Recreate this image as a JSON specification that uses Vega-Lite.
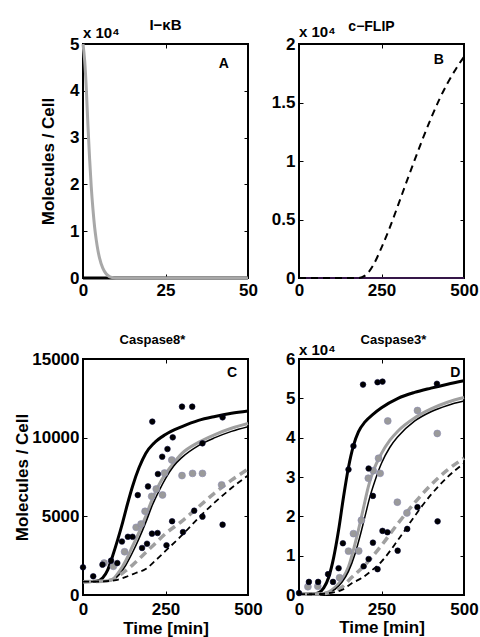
{
"$schema":"https://vega.github.io/schema/vega-lite/v6.json",
"padding":{"left":12,"top":16,"right":5,"bottom":3},
"background":"white",
"columns":2,
"spacing":{"row":81,"column":51},
"bounds":"flush",
"datasets":{
"A":[{"s":"k","t":0,"v":0},{"s":"k","t":50,"v":0},
{"s":"g","t":0,"v":50000},{"s":"g","t":0.5,"v":46500},{"s":"g","t":1,"v":40500},{"s":"g","t":1.5,"v":32500},{"s":"g","t":2,"v":25500},{"s":"g","t":2.5,"v":19500},{"s":"g","t":3,"v":14800},{"s":"g","t":3.5,"v":11000},{"s":"g","t":4,"v":8200},{"s":"g","t":4.5,"v":6000},{"s":"g","t":5,"v":4300},{"s":"g","t":6,"v":2100},{"s":"g","t":7,"v":900},{"s":"g","t":8,"v":300},{"s":"g","t":9,"v":80},{"s":"g","t":10,"v":0},{"s":"g","t":20,"v":0},{"s":"g","t":50,"v":0}],
"B":[{"s":"z","t":0,"v":0},{"s":"z","t":500,"v":0},
{"s":"f","t":0,"v":0},{"s":"f","t":100,"v":0},{"s":"f","t":180,"v":0},{"s":"f","t":200,"v":200},{"s":"f","t":225,"v":1100},{"s":"f","t":250,"v":2600},{"s":"f","t":275,"v":4300},{"s":"f","t":300,"v":6200},{"s":"f","t":325,"v":8150},{"s":"f","t":350,"v":10050},{"s":"f","t":375,"v":11900},{"s":"f","t":400,"v":13650},{"s":"f","t":425,"v":15250},{"s":"f","t":450,"v":16650},{"s":"f","t":475,"v":17850},{"s":"f","t":500,"v":18900}],
"C":[
{"s":"k1","t":0,"v":850},{"s":"k1","t":40,"v":870},{"s":"k1","t":60,"v":1100},{"s":"k1","t":75,"v":1600},{"s":"k1","t":90,"v":2500},{"s":"k1","t":105,"v":3500},{"s":"k1","t":120,"v":4600},{"s":"k1","t":135,"v":5800},{"s":"k1","t":150,"v":6900},{"s":"k1","t":170,"v":8100},{"s":"k1","t":190,"v":9000},{"s":"k1","t":215,"v":9650},{"s":"k1","t":250,"v":10200},{"s":"k1","t":300,"v":10700},{"s":"k1","t":350,"v":11100},{"s":"k1","t":400,"v":11350},{"s":"k1","t":450,"v":11550},{"s":"k1","t":500,"v":11700},
{"s":"g1","t":0,"v":850},{"s":"g1","t":60,"v":870},{"s":"g1","t":90,"v":1000},{"s":"g1","t":110,"v":1500},{"s":"g1","t":130,"v":2200},{"s":"g1","t":150,"v":3100},{"s":"g1","t":170,"v":4000},{"s":"g1","t":190,"v":5000},{"s":"g1","t":210,"v":6100},{"s":"g1","t":230,"v":7000},{"s":"g1","t":250,"v":7700},{"s":"g1","t":275,"v":8400},{"s":"g1","t":300,"v":9000},{"s":"g1","t":350,"v":9700},{"s":"g1","t":400,"v":10200},{"s":"g1","t":450,"v":10600},{"s":"g1","t":500,"v":10900},
{"s":"k2","t":0,"v":850},{"s":"k2","t":60,"v":860},{"s":"k2","t":90,"v":950},{"s":"k2","t":110,"v":1300},{"s":"k2","t":130,"v":1900},{"s":"k2","t":150,"v":2700},{"s":"k2","t":170,"v":3600},{"s":"k2","t":190,"v":4600},{"s":"k2","t":210,"v":5700},{"s":"k2","t":230,"v":6600},{"s":"k2","t":250,"v":7400},{"s":"k2","t":275,"v":8200},{"s":"k2","t":300,"v":8750},{"s":"k2","t":350,"v":9500},{"s":"k2","t":400,"v":10000},{"s":"k2","t":450,"v":10400},{"s":"k2","t":500,"v":10700},
{"s":"g2","t":0,"v":850},{"s":"g2","t":60,"v":870},{"s":"g2","t":90,"v":1000},{"s":"g2","t":120,"v":1400},{"s":"g2","t":150,"v":1900},{"s":"g2","t":180,"v":2500},{"s":"g2","t":210,"v":3100},{"s":"g2","t":250,"v":3900},{"s":"g2","t":300,"v":4700},{"s":"g2","t":350,"v":5600},{"s":"g2","t":400,"v":6500},{"s":"g2","t":450,"v":7300},{"s":"g2","t":500,"v":8000},
{"s":"k3","t":0,"v":850},{"s":"k3","t":60,"v":860},{"s":"k3","t":100,"v":950},{"s":"k3","t":130,"v":1150},{"s":"k3","t":160,"v":1400},{"s":"k3","t":190,"v":1650},{"s":"k3","t":220,"v":2200},{"s":"k3","t":250,"v":2800},{"s":"k3","t":300,"v":3800},{"s":"k3","t":350,"v":4900},{"s":"k3","t":400,"v":5900},{"s":"k3","t":450,"v":6800},{"s":"k3","t":500,"v":7600}],
"D":[
{"s":"k1","t":0,"v":200},{"s":"k1","t":40,"v":250},{"s":"k1","t":60,"v":600},{"s":"k1","t":75,"v":1800},{"s":"k1","t":90,"v":4500},{"s":"k1","t":105,"v":9500},{"s":"k1","t":120,"v":16500},{"s":"k1","t":135,"v":25000},{"s":"k1","t":150,"v":32500},{"s":"k1","t":165,"v":38000},{"s":"k1","t":180,"v":41500},{"s":"k1","t":200,"v":44000},{"s":"k1","t":225,"v":46000},{"s":"k1","t":250,"v":47600},{"s":"k1","t":300,"v":50000},{"s":"k1","t":350,"v":51500},{"s":"k1","t":400,"v":52600},{"s":"k1","t":450,"v":53600},{"s":"k1","t":500,"v":54500},
{"s":"g1","t":0,"v":200},{"s":"g1","t":60,"v":250},{"s":"g1","t":90,"v":800},{"s":"g1","t":110,"v":2000},{"s":"g1","t":130,"v":4000},{"s":"g1","t":150,"v":7200},{"s":"g1","t":165,"v":11500},{"s":"g1","t":180,"v":16500},{"s":"g1","t":195,"v":22000},{"s":"g1","t":210,"v":27500},{"s":"g1","t":225,"v":31500},{"s":"g1","t":250,"v":36000},{"s":"g1","t":275,"v":39300},{"s":"g1","t":300,"v":41700},{"s":"g1","t":350,"v":45000},{"s":"g1","t":400,"v":47300},{"s":"g1","t":450,"v":49000},{"s":"g1","t":500,"v":50200},
{"s":"k2","t":0,"v":200},{"s":"k2","t":60,"v":220},{"s":"k2","t":90,"v":600},{"s":"k2","t":110,"v":1500},{"s":"k2","t":130,"v":3200},{"s":"k2","t":150,"v":6000},{"s":"k2","t":170,"v":10500},{"s":"k2","t":185,"v":15000},{"s":"k2","t":200,"v":20000},{"s":"k2","t":215,"v":25000},{"s":"k2","t":230,"v":29000},{"s":"k2","t":250,"v":33500},{"s":"k2","t":275,"v":37500},{"s":"k2","t":300,"v":40300},{"s":"k2","t":350,"v":44200},{"s":"k2","t":400,"v":46600},{"s":"k2","t":450,"v":48200},{"s":"k2","t":500,"v":49300},
{"s":"g2","t":0,"v":200},{"s":"g2","t":60,"v":250},{"s":"g2","t":100,"v":800},{"s":"g2","t":130,"v":2000},{"s":"g2","t":160,"v":4500},{"s":"g2","t":190,"v":6800},{"s":"g2","t":220,"v":9500},{"s":"g2","t":250,"v":12600},{"s":"g2","t":300,"v":18200},{"s":"g2","t":350,"v":23400},{"s":"g2","t":400,"v":28000},{"s":"g2","t":450,"v":31800},{"s":"g2","t":500,"v":34800},
{"s":"k3","t":0,"v":200},{"s":"k3","t":60,"v":220},{"s":"k3","t":100,"v":600},{"s":"k3","t":130,"v":1300},{"s":"k3","t":160,"v":3000},{"s":"k3","t":190,"v":4300},{"s":"k3","t":220,"v":6200},{"s":"k3","t":250,"v":8500},{"s":"k3","t":300,"v":14000},{"s":"k3","t":350,"v":20000},{"s":"k3","t":400,"v":25500},{"s":"k3","t":450,"v":30000},{"s":"k3","t":500,"v":33500}],
"Cp":[
{"c":"g","t":64,"v":2030},{"c":"g","t":92,"v":1820},{"c":"g","t":126,"v":2750},{"c":"g","t":161,"v":4300},{"c":"g","t":176,"v":4510},{"c":"g","t":188,"v":5320},{"c":"g","t":208,"v":6270},{"c":"g","t":222,"v":6740},{"c":"g","t":241,"v":6360},{"c":"g","t":247,"v":7750},{"c":"g","t":269,"v":8580},{"c":"g","t":300,"v":7590},{"c":"g","t":332,"v":7730},{"c":"g","t":362,"v":7730},{"c":"g","t":420,"v":7000},
{"c":"k","t":0,"v":1760},{"c":"k","t":31,"v":1190},{"c":"k","t":59,"v":1930},{"c":"k","t":85,"v":2180},{"c":"k","t":104,"v":2030},{"c":"k","t":118,"v":3400},{"c":"k","t":136,"v":3700},{"c":"k","t":150,"v":3700},{"c":"k","t":166,"v":6350},{"c":"k","t":179,"v":2990},{"c":"k","t":194,"v":3260},{"c":"k","t":197,"v":6900},{"c":"k","t":210,"v":11020},{"c":"k","t":209,"v":3900},{"c":"k","t":226,"v":3940},{"c":"k","t":227,"v":7690},{"c":"k","t":240,"v":8790},{"c":"k","t":253,"v":3160},{"c":"k","t":256,"v":9280},{"c":"k","t":272,"v":10020},{"c":"k","t":270,"v":4690},{"c":"k","t":300,"v":11970},{"c":"k","t":303,"v":4000},{"c":"k","t":331,"v":11970},{"c":"k","t":337,"v":5360},{"c":"k","t":362,"v":4980},{"c":"k","t":362,"v":9640},{"c":"k","t":423,"v":4470},{"c":"k","t":423,"v":11290}],
"Dp":[
{"c":"g","t":27,"v":2100},{"c":"g","t":57,"v":2200},{"c":"g","t":123,"v":4400},{"c":"g","t":150,"v":11150},{"c":"g","t":165,"v":15600},{"c":"g","t":181,"v":11200},{"c":"g","t":189,"v":19000},{"c":"g","t":210,"v":29700},{"c":"g","t":225,"v":31600},{"c":"g","t":241,"v":34770},{"c":"g","t":246,"v":30930},{"c":"g","t":269,"v":44250},{"c":"g","t":298,"v":23600},{"c":"g","t":327,"v":20850},{"c":"g","t":359,"v":46900},{"c":"g","t":419,"v":41070},
{"c":"k","t":0,"v":500},{"c":"k","t":30,"v":3330},{"c":"k","t":58,"v":3330},{"c":"k","t":88,"v":5300},{"c":"k","t":103,"v":3330},{"c":"k","t":120,"v":6810},{"c":"k","t":133,"v":13150},{"c":"k","t":150,"v":31900},{"c":"k","t":165,"v":37870},{"c":"k","t":194,"v":53500},{"c":"k","t":196,"v":7300},{"c":"k","t":211,"v":9150},{"c":"k","t":211,"v":32170},{"c":"k","t":224,"v":25190},{"c":"k","t":224,"v":13300},{"c":"k","t":238,"v":54100},{"c":"k","t":253,"v":54250},{"c":"k","t":238,"v":6560},{"c":"k","t":253,"v":16300},{"c":"k","t":268,"v":15950},{"c":"k","t":299,"v":11270},{"c":"k","t":328,"v":16800},{"c":"k","t":359,"v":22330},{"c":"k","t":418,"v":53700},{"c":"k","t":420,"v":18720}],
"ann":[
{"p":"A","k":"x","t":0,"v":51300,"lab":"x 10⁴"},{"p":"A","k":"l","t":42.7,"v":45700,"lab":"A"},
{"p":"B","k":"x","t":0,"v":20600,"lab":"x 10⁴"},{"p":"B","k":"l","t":424,"v":18600,"lab":"B"},
{"p":"C","k":"l","t":452,"v":14100,"lab":"C"},
{"p":"D","k":"x","t":0,"v":61000,"lab":"x 10⁴"},{"p":"D","k":"l","t":474,"v":56400,"lab":"D"}]
},
"concat":[
{"width":165,"height":234,"title":{"text":"I−κB","fontSize":15,"offset":-7},
 "layer":[
  {"data":{"name":"A"},"transform":[{"filter":"datum.s==='k'"}],"mark":{"type":"line","color":"#000","strokeWidth":3},
   "encoding":{"x":{"field":"t","type":"quantitative","scale":{"domain":[0,50],"nice":false},"axis":{"orient":"bottom","values":[0,25,50],"title":null}},
    "y":{"field":"v","type":"quantitative","scale":{"domain":[0,50000],"nice":false},"axis":{"orient":"left","values":[0,10000,20000,30000,40000,50000],"labelExpr":"datum.value/10000","title":"Molecules / Cell","titlePadding":12}}}},
  {"data":{"name":"A"},"transform":[{"filter":"datum.s==='g'"}],"mark":{"type":"line","color":"#a8a8a8","strokeWidth":3,"interpolate":"monotone"},
   "encoding":{"x":{"field":"t","type":"quantitative","scale":{"domain":[0,50],"nice":false},"axis":null},"y":{"field":"v","type":"quantitative","scale":{"domain":[0,50000],"nice":false},"axis":null}}},
  {"data":{"name":"ann"},"transform":[{"filter":"datum.p==='A' && datum.k==='x'"}],"mark":{"type":"text","align":"left","baseline":"alphabetic","fontSize":15,"fontWeight":"bold"},
   "encoding":{"x":{"field":"t","type":"quantitative","scale":{"domain":[0,50],"nice":false},"axis":null},"y":{"field":"v","type":"quantitative","scale":{"domain":[0,50000],"nice":false},"axis":null},"text":{"field":"lab"}}},
  {"data":{"name":"ann"},"transform":[{"filter":"datum.p==='A' && datum.k==='l'"}],"mark":{"type":"text","align":"center","baseline":"middle","fontSize":14,"fontWeight":"bold"},
   "encoding":{"x":{"field":"t","type":"quantitative","scale":{"domain":[0,50],"nice":false},"axis":null},"y":{"field":"v","type":"quantitative","scale":{"domain":[0,50000],"nice":false},"axis":null},"text":{"field":"lab"}}},
  {"data":{"name":"A"},"mark":{"type":"point","opacity":0},
   "encoding":{"x":{"field":"t","type":"quantitative","scale":{"domain":[0,50],"nice":false},"axis":{"orient":"top","values":[0,25,50],"labels":false,"title":null}},
    "y":{"field":"v","type":"quantitative","scale":{"domain":[0,50000],"nice":false},"axis":{"orient":"right","values":[0,10000,20000,30000,40000,50000],"labels":false,"title":null}}}}
 ],
 "resolve":{"axis":{"x":"independent","y":"independent"}}},
{"width":165,"height":234,"title":{"text":"c−FLIP","dx":-10,"fontSize":14,"offset":-9},
 "layer":[
  {"data":{"name":"B"},"transform":[{"filter":"datum.s==='z'"}],"mark":{"type":"line","color":"#6a2c91","strokeWidth":1},
   "encoding":{"x":{"field":"t","type":"quantitative","scale":{"domain":[0,500],"nice":false},"axis":{"orient":"bottom","values":[0,250,500],"title":null}},
    "y":{"field":"v","type":"quantitative","scale":{"domain":[0,20000],"nice":false},"axis":{"orient":"left","values":[0,5000,10000,15000,20000],"labelExpr":"datum.value/10000","title":null}}}},
  {"data":{"name":"B"},"transform":[{"filter":"datum.s==='f'"}],"mark":{"type":"line","color":"#000","strokeWidth":2,"strokeDash":[7,5],"interpolate":"monotone"},
   "encoding":{"x":{"field":"t","type":"quantitative","scale":{"domain":[0,500],"nice":false},"axis":null},"y":{"field":"v","type":"quantitative","scale":{"domain":[0,20000],"nice":false},"axis":null}}},
  {"data":{"name":"ann"},"transform":[{"filter":"datum.p==='B' && datum.k==='x'"}],"mark":{"type":"text","align":"left","baseline":"alphabetic","fontSize":15,"fontWeight":"bold"},
   "encoding":{"x":{"field":"t","type":"quantitative","scale":{"domain":[0,500],"nice":false},"axis":null},"y":{"field":"v","type":"quantitative","scale":{"domain":[0,20000],"nice":false},"axis":null},"text":{"field":"lab"}}},
  {"data":{"name":"ann"},"transform":[{"filter":"datum.p==='B' && datum.k==='l'"}],"mark":{"type":"text","align":"center","baseline":"middle","fontSize":14,"fontWeight":"bold"},
   "encoding":{"x":{"field":"t","type":"quantitative","scale":{"domain":[0,500],"nice":false},"axis":null},"y":{"field":"v","type":"quantitative","scale":{"domain":[0,20000],"nice":false},"axis":null},"text":{"field":"lab"}}},
  {"data":{"name":"B"},"mark":{"type":"point","opacity":0},
   "encoding":{"x":{"field":"t","type":"quantitative","scale":{"domain":[0,500],"nice":false},"axis":{"orient":"top","values":[0,250,500],"labels":false,"title":null}},
    "y":{"field":"v","type":"quantitative","scale":{"domain":[0,20000],"nice":false},"axis":{"orient":"right","values":[0,5000,10000,15000,20000],"labels":false,"title":null}}}}
 ],
 "resolve":{"axis":{"x":"independent","y":"independent"}}},
{"width":165,"height":236,"title":{"text":"Caspase8*","dx":-13,"offset":3},
 "layer":[
  {"data":{"name":"C"},"transform":[{"filter":"datum.s==='k1'"}],"mark":{"type":"line","color":"#000","strokeWidth":3,"interpolate":"monotone"},
   "encoding":{"x":{"field":"t","type":"quantitative","scale":{"domain":[0,500],"nice":false},"axis":{"orient":"bottom","values":[0,250,500],"title":"Time [min]","titlePadding":3,"labelPadding":10}},
    "y":{"field":"v","type":"quantitative","scale":{"domain":[0,15000],"nice":false},"axis":{"orient":"left","values":[0,5000,10000,15000],"format":"d","title":"Molecules / Cell","titlePadding":0}}}},
  {"data":{"name":"C"},"transform":[{"filter":"datum.s==='g1'"}],"mark":{"type":"line","color":"#a0a0a0","strokeWidth":3,"interpolate":"monotone"},
   "encoding":{"x":{"field":"t","type":"quantitative","scale":{"domain":[0,500],"nice":false},"axis":null},"y":{"field":"v","type":"quantitative","scale":{"domain":[0,15000],"nice":false},"axis":null}}},
  {"data":{"name":"C"},"transform":[{"filter":"datum.s==='k2'"}],"mark":{"type":"line","color":"#000","strokeWidth":1.5,"interpolate":"monotone"},
   "encoding":{"x":{"field":"t","type":"quantitative","scale":{"domain":[0,500],"nice":false},"axis":null},"y":{"field":"v","type":"quantitative","scale":{"domain":[0,15000],"nice":false},"axis":null}}},
  {"data":{"name":"C"},"transform":[{"filter":"datum.s==='g2'"}],"mark":{"type":"line","color":"#a0a0a0","strokeWidth":3.5,"strokeDash":[8,5],"interpolate":"monotone"},
   "encoding":{"x":{"field":"t","type":"quantitative","scale":{"domain":[0,500],"nice":false},"axis":null},"y":{"field":"v","type":"quantitative","scale":{"domain":[0,15000],"nice":false},"axis":null}}},
  {"data":{"name":"C"},"transform":[{"filter":"datum.s==='k3'"}],"mark":{"type":"line","color":"#000","strokeWidth":1.8,"strokeDash":[6,4],"interpolate":"monotone"},
   "encoding":{"x":{"field":"t","type":"quantitative","scale":{"domain":[0,500],"nice":false},"axis":null},"y":{"field":"v","type":"quantitative","scale":{"domain":[0,15000],"nice":false},"axis":null}}},
  {"data":{"name":"Cp"},"mark":{"type":"circle","opacity":1,"strokeWidth":0.6},
   "encoding":{"x":{"field":"t","type":"quantitative","scale":{"domain":[0,500],"nice":false},"axis":null},"y":{"field":"v","type":"quantitative","scale":{"domain":[0,15000],"nice":false},"axis":null},
    "color":{"field":"c","type":"nominal","scale":{"domain":["k","g"],"range":["#000000","#9a9a9a"]},"legend":null},
    "stroke":{"field":"c","type":"nominal","scale":{"domain":["k","g"],"range":["#000033","#8c8cb4"]},"legend":null},
    "size":{"field":"c","type":"nominal","scale":{"domain":["k","g"],"range":[32,48]},"legend":null}}},
  {"data":{"name":"ann"},"transform":[{"filter":"datum.p==='C' && datum.k==='l'"}],"mark":{"type":"text","align":"center","baseline":"middle","fontSize":14,"fontWeight":"bold"},
   "encoding":{"x":{"field":"t","type":"quantitative","scale":{"domain":[0,500],"nice":false},"axis":null},"y":{"field":"v","type":"quantitative","scale":{"domain":[0,15000],"nice":false},"axis":null},"text":{"field":"lab"}}},
  {"data":{"name":"C"},"mark":{"type":"point","opacity":0},
   "encoding":{"x":{"field":"t","type":"quantitative","scale":{"domain":[0,500],"nice":false},"axis":{"orient":"top","values":[0,250,500],"labels":false,"title":null}},
    "y":{"field":"v","type":"quantitative","scale":{"domain":[0,15000],"nice":false},"axis":{"orient":"right","values":[0,5000,10000,15000],"labels":false,"title":null}}}}
 ],
 "resolve":{"axis":{"x":"independent","y":"independent"}}},
{"width":165,"height":236,"title":{"text":"Caspase3*","dx":12,"offset":-4},
 "layer":[
  {"data":{"name":"D"},"transform":[{"filter":"datum.s==='k1'"}],"mark":{"type":"line","color":"#000","strokeWidth":3,"interpolate":"monotone"},
   "encoding":{"x":{"field":"t","type":"quantitative","scale":{"domain":[0,500],"nice":false},"axis":{"orient":"bottom","values":[0,250,500],"title":"Time [min]","titlePadding":2,"labelPadding":10}},
    "y":{"field":"v","type":"quantitative","scale":{"domain":[0,60000],"nice":false},"axis":{"orient":"left","values":[0,10000,20000,30000,40000,50000,60000],"labelExpr":"datum.value/10000","title":null}}}},
  {"data":{"name":"D"},"transform":[{"filter":"datum.s==='g1'"}],"mark":{"type":"line","color":"#a0a0a0","strokeWidth":3,"interpolate":"monotone"},
   "encoding":{"x":{"field":"t","type":"quantitative","scale":{"domain":[0,500],"nice":false},"axis":null},"y":{"field":"v","type":"quantitative","scale":{"domain":[0,60000],"nice":false},"axis":null}}},
  {"data":{"name":"D"},"transform":[{"filter":"datum.s==='k2'"}],"mark":{"type":"line","color":"#000","strokeWidth":1.5,"interpolate":"monotone"},
   "encoding":{"x":{"field":"t","type":"quantitative","scale":{"domain":[0,500],"nice":false},"axis":null},"y":{"field":"v","type":"quantitative","scale":{"domain":[0,60000],"nice":false},"axis":null}}},
  {"data":{"name":"D"},"transform":[{"filter":"datum.s==='g2'"}],"mark":{"type":"line","color":"#a0a0a0","strokeWidth":3.5,"strokeDash":[8,5],"interpolate":"monotone"},
   "encoding":{"x":{"field":"t","type":"quantitative","scale":{"domain":[0,500],"nice":false},"axis":null},"y":{"field":"v","type":"quantitative","scale":{"domain":[0,60000],"nice":false},"axis":null}}},
  {"data":{"name":"D"},"transform":[{"filter":"datum.s==='k3'"}],"mark":{"type":"line","color":"#000","strokeWidth":1.8,"strokeDash":[6,4],"interpolate":"monotone"},
   "encoding":{"x":{"field":"t","type":"quantitative","scale":{"domain":[0,500],"nice":false},"axis":null},"y":{"field":"v","type":"quantitative","scale":{"domain":[0,60000],"nice":false},"axis":null}}},
  {"data":{"name":"Dp"},"mark":{"type":"circle","opacity":1,"strokeWidth":0.6},
   "encoding":{"x":{"field":"t","type":"quantitative","scale":{"domain":[0,500],"nice":false},"axis":null},"y":{"field":"v","type":"quantitative","scale":{"domain":[0,60000],"nice":false},"axis":null},
    "color":{"field":"c","type":"nominal","scale":{"domain":["k","g"],"range":["#000000","#9a9a9a"]},"legend":null},
    "stroke":{"field":"c","type":"nominal","scale":{"domain":["k","g"],"range":["#000033","#8c8cb4"]},"legend":null},
    "size":{"field":"c","type":"nominal","scale":{"domain":["k","g"],"range":[32,52]},"legend":null}}},
  {"data":{"name":"ann"},"transform":[{"filter":"datum.p==='D' && datum.k==='x'"}],"mark":{"type":"text","align":"left","baseline":"alphabetic","fontSize":15,"fontWeight":"bold"},
   "encoding":{"x":{"field":"t","type":"quantitative","scale":{"domain":[0,500],"nice":false},"axis":null},"y":{"field":"v","type":"quantitative","scale":{"domain":[0,60000],"nice":false},"axis":null},"text":{"field":"lab"}}},
  {"data":{"name":"ann"},"transform":[{"filter":"datum.p==='D' && datum.k==='l'"}],"mark":{"type":"text","align":"center","baseline":"middle","fontSize":14,"fontWeight":"bold"},
   "encoding":{"x":{"field":"t","type":"quantitative","scale":{"domain":[0,500],"nice":false},"axis":null},"y":{"field":"v","type":"quantitative","scale":{"domain":[0,60000],"nice":false},"axis":null},"text":{"field":"lab"}}},
  {"data":{"name":"D"},"mark":{"type":"point","opacity":0},
   "encoding":{"x":{"field":"t","type":"quantitative","scale":{"domain":[0,500],"nice":false},"axis":{"orient":"top","values":[0,250,500],"labels":false,"title":null}},
    "y":{"field":"v","type":"quantitative","scale":{"domain":[0,60000],"nice":false},"axis":{"orient":"right","values":[0,10000,20000,30000,40000,50000,60000],"labels":false,"title":null}}}}
 ],
 "resolve":{"axis":{"x":"independent","y":"independent"}}}
],
"config":{
 "font":"Liberation Sans",
 "view":{"stroke":"#000","strokeWidth":2},
 "axis":{"domain":false,"grid":false,"labelFont":"Liberation Sans","labelFontWeight":"bold","labelFontSize":17,"labelColor":"#000","labelFlush":false,"labelOverlap":false,"labelPadding":8,"titleFont":"Liberation Sans","titleFontWeight":"bold","titleFontSize":17,"titleColor":"#000","tickColor":"#000","tickSize":-4,"tickWidth":1},
 "title":{"font":"Liberation Sans","fontSize":13,"fontWeight":"bold","color":"#000","offset":12,"anchor":"middle"},
 "text":{"font":"Liberation Sans","fontWeight":"bold","color":"#000"}
}
}
